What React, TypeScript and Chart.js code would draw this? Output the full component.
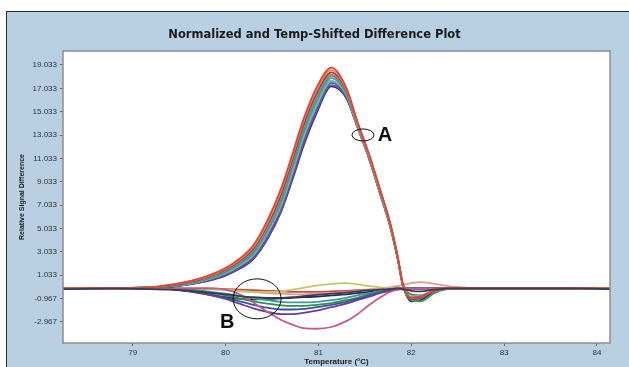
import React, { useEffect, useRef } from "react";
import { Chart, registerables } from "chart.js";

Chart.register(...registerables);

const temps = [78.25, 78.8, 79.2, 79.4, 79.6, 79.8, 80.0, 80.15, 80.3, 80.45, 80.6, 80.72, 80.84, 80.98, 81.14, 81.3, 81.42, 81.55, 81.66, 81.77, 81.85, 81.91, 82.0, 82.1, 82.25, 82.45, 82.8, 83.3, 83.8, 84.14];

const xTicks = [79, 80, 81, 82, 83, 84];
const yTicks = [-2.967, -0.967, 1.033, 3.033, 5.033, 7.033, 9.033, 11.033, 13.033, 15.033, 17.033, 19.033];

// positive (melting peak) curves
const pRed = [-0.1,-0.1,0.0,0.2,0.5,0.95,1.65,2.45,3.6,5.7,8.5,11.4,14.4,17.1,18.8,17.1,14.2,11.3,8.5,5.6,2.8,0.3,-0.9,-0.8,-0.3,-0.1,-0.1,-0.1,-0.1,-0.1];
const pOrange = [-0.1,-0.1,0.0,0.2,0.48,0.9,1.6,2.35,3.45,5.5,8.3,11.2,14.2,16.9,18.6,17.0,14.1,11.2,8.4,5.5,2.8,0.3,-0.9,-0.8,-0.3,-0.1,-0.1,-0.1,-0.1,-0.1];
const pMaroon = [-0.1,-0.1,0.0,0.15,0.42,0.85,1.5,2.25,3.3,5.3,8.0,10.9,13.9,16.6,18.4,16.9,14.1,11.2,8.4,5.5,2.7,0.2,-1.0,-0.9,-0.3,-0.1,-0.1,-0.1,-0.1,-0.1];
const pPink = [-0.1,-0.1,0.0,0.15,0.4,0.8,1.45,2.15,3.2,5.1,7.8,10.7,13.7,16.4,18.2,16.8,14.0,11.1,8.3,5.5,2.7,0.2,-0.9,-0.8,-0.3,-0.1,-0.1,-0.1,-0.1,-0.1];
const pGreen = [-0.1,-0.1,0.0,0.1,0.35,0.75,1.35,2.05,3.05,5.0,7.6,10.5,13.5,16.2,18.1,16.7,14.0,11.1,8.3,5.4,2.7,0.2,-1.1,-1.2,-0.5,-0.1,-0.1,-0.1,-0.1,-0.1];
const pTeal = [-0.1,-0.1,0.0,0.1,0.32,0.7,1.28,1.95,2.9,4.8,7.3,10.2,13.2,15.9,17.9,16.6,13.9,11.1,8.3,5.4,2.7,0.2,-0.9,-0.8,-0.3,-0.1,-0.1,-0.1,-0.1,-0.1];
const pCyan = [-0.1,-0.1,0.0,0.1,0.3,0.65,1.2,1.85,2.75,4.6,7.1,9.9,12.9,15.6,17.7,16.5,13.8,11.0,8.2,5.4,2.7,0.2,-0.8,-0.7,-0.3,-0.1,-0.1,-0.1,-0.1,-0.1];
const pSage = [-0.1,-0.1,0.0,0.1,0.3,0.65,1.2,1.85,2.75,4.6,7.0,9.8,12.8,15.5,17.6,16.5,13.8,11.0,8.2,5.4,2.7,0.2,-0.8,-0.7,-0.3,-0.1,-0.1,-0.1,-0.1,-0.1];
const pBlue = [-0.1,-0.1,0.0,0.05,0.27,0.6,1.12,1.75,2.65,4.4,6.9,9.7,12.6,15.4,17.5,16.4,13.8,11.0,8.2,5.3,2.6,0.2,-0.9,-0.8,-0.3,-0.1,-0.1,-0.1,-0.1,-0.1];
const pPurple = [-0.1,-0.1,0.0,0.05,0.24,0.55,1.05,1.65,2.5,4.2,6.6,9.4,12.3,15.1,17.3,16.3,13.7,10.9,8.1,5.3,2.6,0.2,-1.0,-0.9,-0.3,-0.1,-0.1,-0.1,-0.1,-0.1];
const pNavy = [-0.1,-0.1,0.0,0.05,0.22,0.52,1.0,1.58,2.42,4.1,6.5,9.2,12.1,14.9,17.2,16.2,13.7,10.9,8.1,5.3,2.6,0.2,-1.2,-1.1,-0.4,-0.1,-0.1,-0.1,-0.1,-0.1];

// negative / flat curves
const nPink = [-0.1,-0.1,-0.1,-0.1,-0.1,-0.1,-0.2,-0.6,-1.3,-2.1,-2.8,-3.2,-3.5,-3.55,-3.4,-2.9,-2.3,-1.5,-0.9,-0.4,-0.2,-0.1,-0.1,-0.1,-0.1,-0.1,-0.1,-0.1,-0.1,-0.1];
const nPurple = [-0.1,-0.1,-0.1,-0.15,-0.3,-0.6,-1.0,-1.4,-1.8,-2.1,-2.3,-2.3,-2.2,-2.0,-1.7,-1.4,-1.1,-0.8,-0.5,-0.3,-0.2,-0.15,-0.1,-0.1,-0.1,-0.1,-0.1,-0.1,-0.1,-0.1];
const nBlue = [-0.1,-0.1,-0.1,-0.15,-0.3,-0.55,-0.9,-1.2,-1.5,-1.75,-1.9,-1.9,-1.85,-1.7,-1.5,-1.25,-1.0,-0.7,-0.45,-0.25,-0.15,-0.1,-0.1,-0.1,-0.1,-0.1,-0.1,-0.1,-0.1,-0.1];
const nGreen = [-0.1,-0.1,-0.1,-0.1,-0.2,-0.4,-0.7,-0.95,-1.2,-1.4,-1.55,-1.6,-1.6,-1.5,-1.35,-1.1,-0.9,-0.6,-0.4,-0.2,-0.1,-0.2,-0.6,-0.7,-0.3,-0.1,-0.1,-0.1,-0.1,-0.1];
const nTeal = [-0.1,-0.1,-0.1,-0.1,-0.2,-0.35,-0.55,-0.75,-0.95,-1.1,-1.25,-1.3,-1.3,-1.25,-1.1,-0.9,-0.7,-0.5,-0.3,-0.15,-0.1,-0.1,-0.1,-0.1,-0.1,-0.1,-0.1,-0.1,-0.1,-0.1];
const nNavy = [-0.1,-0.1,-0.1,-0.15,-0.35,-0.6,-0.85,-1.0,-1.05,-1.0,-0.95,-0.9,-0.85,-0.8,-0.7,-0.6,-0.5,-0.4,-0.3,-0.2,-0.15,-0.1,-0.1,-0.1,-0.1,-0.1,-0.1,-0.1,-0.1,-0.1];
const nOlive = [-0.1,-0.1,-0.1,-0.1,-0.1,-0.15,-0.25,-0.35,-0.4,-0.4,-0.35,-0.2,-0.05,0.15,0.3,0.35,0.25,0.1,0.0,-0.1,-0.1,-0.1,-0.1,-0.1,-0.1,-0.1,-0.1,-0.1,-0.1,-0.1];
const nSalmon = [-0.1,-0.1,-0.1,-0.1,-0.1,-0.1,-0.2,-0.3,-0.4,-0.5,-0.55,-0.6,-0.6,-0.55,-0.5,-0.4,-0.3,-0.2,-0.1,0.0,0.1,0.2,0.35,0.45,0.3,0.05,-0.1,-0.1,-0.1,-0.1];
const nRed = [-0.1,-0.1,-0.1,-0.1,-0.1,-0.1,-0.15,-0.2,-0.25,-0.3,-0.35,-0.4,-0.4,-0.4,-0.35,-0.3,-0.25,-0.2,-0.15,-0.1,-0.1,-0.1,-0.1,-0.1,-0.1,-0.1,-0.1,-0.1,-0.1,-0.1];
const nBlack = [-0.15,-0.1,-0.15,-0.2,-0.3,-0.45,-0.6,-0.75,-0.85,-0.9,-0.9,-0.85,-0.75,-0.65,-0.55,-0.45,-0.35,-0.25,-0.2,-0.15,-0.1,-0.15,-0.3,-0.35,-0.2,-0.1,-0.1,-0.1,-0.1,-0.15];

const seriesList: [number[], string][] = [
  [nBlack, "#3a3a55"],
  [pRed, "#d8463c"],
  [pOrange, "#e39146"],
  [pMaroon, "#934050"],
  [pPink, "#d0708f"],
  [pGreen, "#3f9a5e"],
  [pTeal, "#47a39a"],
  [pCyan, "#6ab7c5"],
  [pSage, "#7f9a86"],
  [pBlue, "#4158b0"],
  [pPurple, "#7b4c9f"],
  [pNavy, "#30356f"],
  [nPink, "#c25a8c"],
  [nPurple, "#6b3f8d"],
  [nBlue, "#3353a8"],
  [nGreen, "#33904a"],
  [nTeal, "#3f9a92"],
  [nNavy, "#222c5c"],
  [nOlive, "#c5c46a"],
  [nSalmon, "#e39a84"],
  [nRed, "#c84848"],
];

const titleText = "Normalized and Temp-Shifted Difference Plot";
const xTitle = "Temperature (°C)";
const yTitle = "Relative Signal Difference";

const overlayPlugin = {
  id: "overlay",
  beforeDraw(chart: any) {
    const { ctx, chartArea: a } = chart;
    ctx.save();
    ctx.fillStyle = "#ffffff";
    ctx.fillRect(a.left, a.top, a.right - a.left, a.bottom - a.top);
    ctx.restore();
  },
  afterDraw(chart: any) {
    const { ctx, chartArea: a, scales } = chart;
    const xs = scales.x;
    const ys = scales.y;
    ctx.save();
    // plot frame
    ctx.strokeStyle = "#8a8f96";
    ctx.lineWidth = 1.5;
    ctx.strokeRect(a.left, a.top, a.right - a.left, a.bottom - a.top);
    // title
    ctx.fillStyle = "#1a1a1a";
    ctx.font = "bold 11.5px 'DejaVu Sans', Arial, sans-serif";
    ctx.textAlign = "center";
    ctx.textBaseline = "middle";
    ctx.fillText(titleText, (a.left + a.right) / 2 - 22, 22);
    // x title
    ctx.font = "bold 8px 'Liberation Sans', Arial, sans-serif";
    ctx.fillText(xTitle, (a.left + a.right) / 2, chart.height - 5);
    // y title
    ctx.save();
    ctx.translate(14, (a.top + a.bottom) / 2);
    ctx.rotate(-Math.PI / 2);
    ctx.font = "bold 7px 'Liberation Sans', Arial, sans-serif";
    ctx.fillText(yTitle, 0, 0);
    ctx.restore();
    // annotations
    ctx.strokeStyle = "#111";
    ctx.lineWidth = 1;
    const ax = xs.getPixelForValue(81.48);
    const ay = ys.getPixelForValue(13.04);
    ctx.beginPath();
    ctx.ellipse(ax, ay, 11, 6, 0, 0, Math.PI * 2);
    ctx.stroke();
    const bx = xs.getPixelForValue(80.34);
    const by = ys.getPixelForValue(-0.99);
    ctx.beginPath();
    ctx.ellipse(bx, by, 24, 20, 0, 0, Math.PI * 2);
    ctx.stroke();
    ctx.fillStyle = "#111";
    ctx.font = "bold 20px 'Liberation Sans', Arial, sans-serif";
    ctx.fillText("A", ax + 22, ay + 1);
    ctx.fillText("B", bx - 30, by + 24);
    ctx.restore();
  },
};

export default function App() {
  const ref = useRef<HTMLCanvasElement>(null);
  useEffect(() => {
    if (!ref.current) return;
    const datasets = seriesList.map(([vals, color]) => ({
      data: temps.map((t, i) => ({ x: t, y: vals[i] })),
      borderColor: color,
      backgroundColor: color,
      borderWidth: 1.8,
      pointRadius: 0,
      fill: false,
      cubicInterpolationMode: "monotone" as const,
    }));
    const tickFont = { size: 8, family: "'Liberation Sans', Arial, sans-serif" };
    const chart = new Chart(ref.current, {
      type: "line",
      data: { datasets },
      options: {
        animation: false,
        responsive: false,
        maintainAspectRatio: false,
        layout: { padding: { left: 0, top: 38, right: 19, bottom: 0 } },
        plugins: { legend: { display: false }, tooltip: { enabled: false }, title: { display: false } },
        scales: {
          x: {
            type: "linear",
            min: 78.25,
            max: 84.14,
            afterBuildTicks: (s: any) => { s.ticks = xTicks.map((v) => ({ value: v })); },
            afterFit: (s: any) => { s.height = 24; },
            ticks: { color: "#333", font: tickFont, padding: 2, maxRotation: 0, callback: (v: any) => String(v) },
            grid: { drawOnChartArea: false, drawTicks: true, tickLength: 3, color: "#666" },
            border: { display: false },
          },
          y: {
            type: "linear",
            min: -4.77,
            max: 20.23,
            afterBuildTicks: (s: any) => { s.ticks = yTicks.map((v) => ({ value: v })); },
            afterFit: (s: any) => { s.width = 55; },
            ticks: { color: "#333", font: tickFont, padding: 3, callback: (v: any) => Number(v).toFixed(3) },
            grid: { drawOnChartArea: false, drawTicks: true, tickLength: 3, color: "#666" },
            border: { display: false },
          },
        },
      },
      plugins: [overlayPlugin],
    });
    return () => chart.destroy();
  }, []);

  return (
    <div style={{ position: "fixed", left: 0, top: 0, width: 629, height: 367, background: "#fff", overflow: "hidden" }}>
      <div style={{ position: "absolute", left: 6, top: 11, width: 640, height: 380, background: "#b9d0e3", borderLeft: "1.5px solid #2a2a2a", borderTop: "1.5px solid #2a2a2a" }}>
        <canvas ref={ref} width={621} height={354} style={{ position: "absolute", left: 0.5, top: 0.5, width: 621, height: 354 }} />
      </div>
    </div>
  );
}
